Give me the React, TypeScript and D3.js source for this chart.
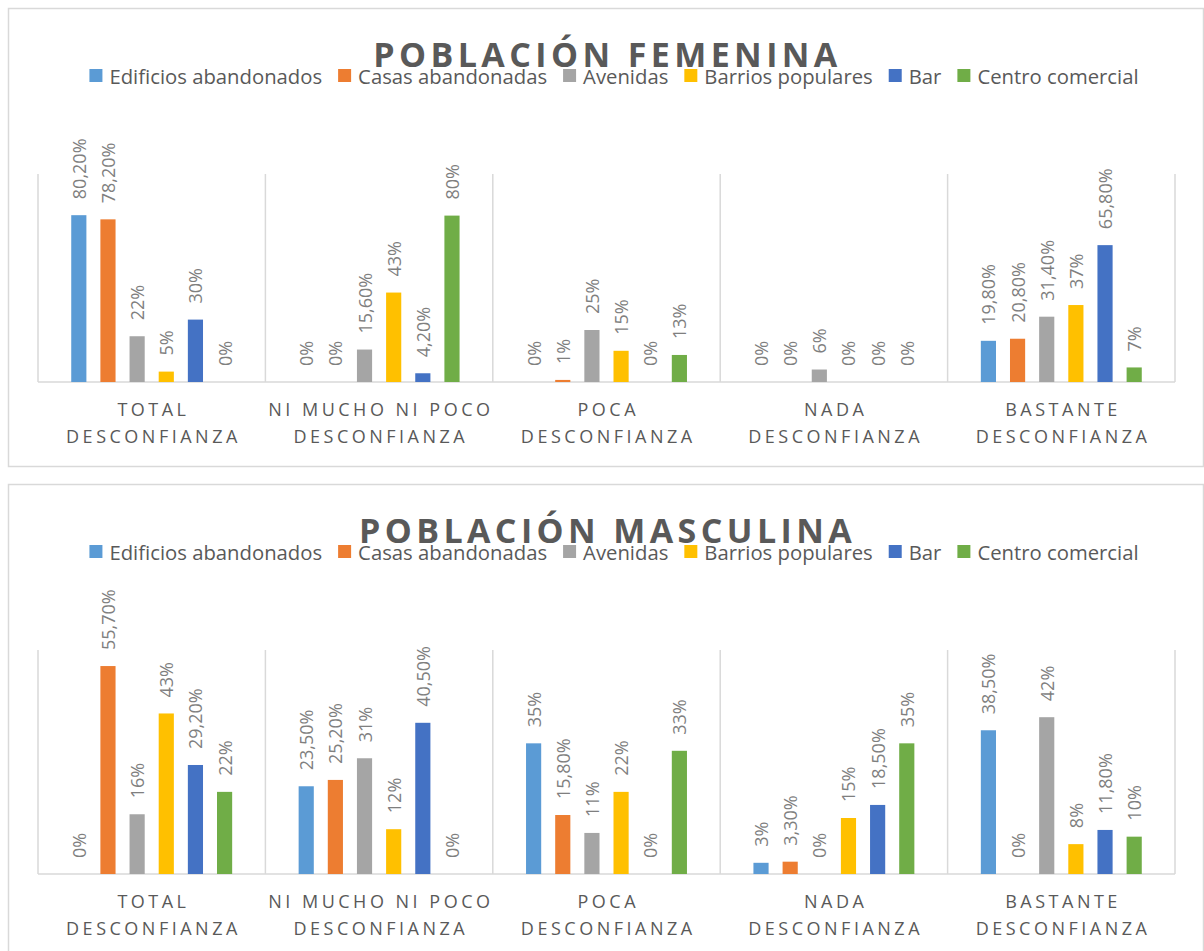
import React, { useEffect, useRef } from 'react';
import * as d3 from 'd3';

const categories = [
  'TOTAL DESCONFIANZA',
  'NI MUCHO NI POCO DESCONFIANZA',
  'POCA DESCONFIANZA',
  'NADA DESCONFIANZA',
  'BASTANTE DESCONFIANZA',
];

const seriesNames = [
  'Edificios abandonados',
  'Casas abandonadas',
  'Avenidas',
  'Barrios populares',
  'Bar',
  'Centro comercial',
];

const seriesColors = ['#5B9BD5', '#ED7D31', '#A5A5A5', '#FFC000', '#4472C4', '#70AD47'];

// Población femenina (%), one array per series, in category order
const femEdificios = [80.2, 0, 0, 0, 19.8];
const femCasas = [78.2, 0, 1, 0, 20.8];
const femAvenidas = [22, 15.6, 25, 6, 31.4];
const femBarrios = [5, 43, 15, 0, 37];
const femBar = [30, 4.2, 0, 0, 65.8];
const femCentro = [0, 80, 13, 0, 7];

// Población masculina (%)
const mascEdificios = [0, 23.5, 35, 3, 38.5];
const mascCasas = [55.7, 25.2, 15.8, 3.3, 0];
const mascAvenidas = [16, 31, 11, 0, 42];
const mascBarrios = [43, 12, 22, 15, 8];
const mascBar = [29.2, 40.5, 0, 18.5, 11.8];
const mascCentro = [22, 0, 33, 35, 10];

// hidden value axis maximum of each chart
const femMax = 100;
const mascMax = 60;

const FONT = '"Open Sans", "Noto Sans", sans-serif';
const TEXT = '#595959';
const LABEL = '#7f7f7f';
const LINE = '#d9d9d9';

const fmt = (v) => (Number.isInteger(v) ? `${v}%` : `${v.toFixed(2).replace('.', ',')}%`);

function drawChart(root, cfg) {
  const { title, series, yMax, frameTop, frameBottom, plotTop, plotBottom } = cfg;
  const frameLeft = 8;
  const frameRight = 1203;
  const plotLeft = 38;
  const plotRight = 1175;

  const g = root.append('g');

  g.append('rect')
    .attr('x', frameLeft + 0.5)
    .attr('y', frameTop + 0.5)
    .attr('width', frameRight - frameLeft)
    .attr('height', frameBottom - frameTop)
    .attr('fill', '#fff')
    .attr('stroke', LINE)
    .attr('stroke-width', 1.5);

  const x0 = d3.scaleBand().domain(categories).range([plotLeft, plotRight]).padding(0);
  const x1 = d3
    .scaleBand()
    .domain(seriesNames)
    .range([0, x0.bandwidth()])
    .paddingInner(0.48)
    .paddingOuter(1.14);
  const y = d3.scaleLinear().domain([0, yMax]).range([plotBottom, plotTop]);

  // category separators
  const bounds = categories.map((c) => x0(c)).concat([plotRight]);
  g.selectAll('.sep')
    .data(bounds)
    .enter()
    .append('line')
    .attr('x1', (d) => d)
    .attr('x2', (d) => d)
    .attr('y1', plotTop)
    .attr('y2', plotBottom)
    .attr('stroke', LINE)
    .attr('stroke-width', 1.5);

  g.append('line')
    .attr('x1', plotLeft)
    .attr('x2', plotRight)
    .attr('y1', plotBottom)
    .attr('y2', plotBottom)
    .attr('stroke', LINE)
    .attr('stroke-width', 1.5);

  const cells = [];
  series.forEach((vals, si) => {
    vals.forEach((v, ci) => {
      cells.push({ s: seriesNames[si], c: categories[ci], v, color: seriesColors[si] });
    });
  });

  g.selectAll('.bar')
    .data(cells)
    .enter()
    .append('rect')
    .attr('x', (d) => x0(d.c) + x1(d.s))
    .attr('y', (d) => y(d.v))
    .attr('width', x1.bandwidth())
    .attr('height', (d) => plotBottom - y(d.v))
    .attr('fill', (d) => d.color);

  g.selectAll('.lbl')
    .data(cells)
    .enter()
    .append('text')
    .attr('transform', (d) => `translate(${x0(d.c) + x1(d.s) + x1.bandwidth() / 2}, ${y(d.v) - 16}) rotate(-90)`)
    .attr('text-anchor', 'start')
    .attr('dominant-baseline', 'central')
    .style('font-family', FONT)
    .style('font-size', '18px')
    .attr('fill', LABEL)
    .text((d) => fmt(d.v));

  // category labels on two lines
  const spacing = 3.5;
  categories.forEach((c) => {
    const cut = c.lastIndexOf(' ');
    const lines = [c.slice(0, cut), c.slice(cut + 1)];
    const cx = x0(c) + x0.bandwidth() / 2 + spacing / 2;
    lines.forEach((ln, i) => {
      g.append('text')
        .attr('x', cx)
        .attr('y', plotBottom + 34 + i * 27)
        .attr('text-anchor', 'middle')
        .style('font-family', FONT)
        .style('font-size', '18px')
        .style('letter-spacing', `${spacing}px`)
        .attr('fill', TEXT)
        .text(ln);
    });
  });

  // title
  g.append('text')
    .attr('x', (frameLeft + frameRight) / 2 + 2)
    .attr('y', frameTop + 59)
    .attr('text-anchor', 'middle')
    .style('font-family', FONT)
    .style('font-size', '34px')
    .style('font-weight', 700)
    .style('letter-spacing', '4.4px')
    .attr('fill', TEXT)
    .text(title);

  // legend
  const legend = g.append('g');
  let cursor = 0;
  seriesNames.forEach((name, i) => {
    legend
      .append('rect')
      .attr('x', cursor)
      .attr('y', frameTop + 61)
      .attr('width', 13)
      .attr('height', 13)
      .attr('fill', seriesColors[i]);
    const t = legend
      .append('text')
      .attr('x', cursor + 20)
      .attr('y', frameTop + 75.5)
      .style('font-family', FONT)
      .style('font-size', '20.3px')
      .attr('fill', TEXT)
      .text(name);
    const w = t.node().getComputedTextLength();
    cursor += 20 + w + (i < seriesNames.length - 1 ? 16 : 0);
  });
  const legendCenter = 614;
  legend.attr('transform', `translate(${legendCenter - cursor / 2}, 0)`);
}

function Charts() {
  const ref = useRef(null);

  useEffect(() => {
    const svg = d3.select(ref.current);
    svg.selectAll('*').remove();

    drawChart(svg, {
      title: 'POBLACIÓN FEMENINA',
      series: [femEdificios, femCasas, femAvenidas, femBarrios, femBar, femCentro],
      yMax: femMax,
      frameTop: 8,
      frameBottom: 466,
      plotTop: 174,
      plotBottom: 382,
    });

    drawChart(svg, {
      title: 'POBLACIÓN MASCULINA',
      series: [mascEdificios, mascCasas, mascAvenidas, mascBarrios, mascBar, mascCentro],
      yMax: mascMax,
      frameTop: 484,
      frameBottom: 958,
      plotTop: 650,
      plotBottom: 874,
    });
  }, []);

  return (
    <svg
      ref={ref}
      width={1204}
      height={951}
      style={{ position: 'absolute', left: 0, top: 0, background: '#fff' }}
    />
  );
}

export default function App() {
  return <Charts />;
}
